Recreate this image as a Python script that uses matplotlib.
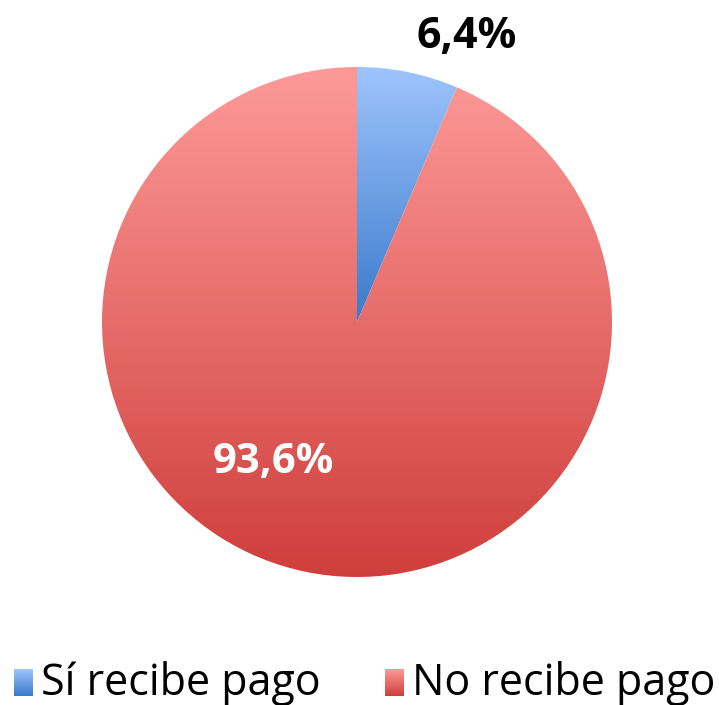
import numpy as np
import matplotlib.pyplot as plt
from matplotlib.colors import LinearSegmentedColormap

# Datos
categorias = ["Sí recibe pago", "No recibe pago"]
porcentajes = [6.4, 93.6]

# Degradados (arriba -> abajo)
colores_top = ["#9EC4FC", "#FD9A98"]
colores_bot = ["#3A7ACC", "#CF3E3B"]

FUENTE = ["Open Sans", "DejaVu Sans"]


def degradado(top, bot):
    return LinearSegmentedColormap.from_list("g", [bot, top])


fig = plt.figure(figsize=(7.19, 7.05), dpi=100)
ax = fig.add_axes([102 / 719, 128 / 705, 510 / 719, 510 / 705])

wedges, _ = ax.pie(porcentajes, startangle=90, counterclock=False, radius=1)

grad = np.linspace(0, 1, 256).reshape(-1, 1)
for w, top, bot in zip(wedges, colores_top, colores_bot):
    verts = w.get_path().vertices
    x0, x1 = verts[:, 0].min(), verts[:, 0].max()
    y0, y1 = verts[:, 1].min(), verts[:, 1].max()
    im = ax.imshow(grad, extent=[x0, x1, y0, y1], origin="lower",
                   cmap=degradado(top, bot), aspect="auto", zorder=2,
                   interpolation="bilinear")
    im.set_clip_path(w)
    w.set_facecolor("none")
    w.set_edgecolor("none")

ax.set_xlim(-1, 1)
ax.set_ylim(-1, 1)
ax.set_aspect("equal")
ax.axis("off")

# Etiquetas de porcentaje
etiquetas = [f"{p:.1f}%".replace(".", ",") for p in porcentajes]
ax.text(0.43, 1.12, etiquetas[0], ha="center", va="center", fontsize=31,
        fontweight="bold", color="black", family=FUENTE, zorder=5)
ax.text(-0.33, -0.55, etiquetas[1], ha="center", va="center", fontsize=30,
        fontweight="bold", color="white", family=FUENTE, zorder=5)

# Leyenda
ley_x = [14, 385]
for cat, lx, top, bot in zip(categorias, ley_x, colores_top, colores_bot):
    kax = fig.add_axes([lx / 719, (705 - 696) / 705, 19 / 719, 27 / 705])
    kax.imshow(grad, origin="lower", cmap=degradado(top, bot), aspect="auto")
    kax.axis("off")
    fig.text((lx + 27) / 719, (705 - 684) / 705, cat, ha="left", va="center",
             fontsize=31, family=FUENTE)

fig.savefig("out.png", dpi=100)
